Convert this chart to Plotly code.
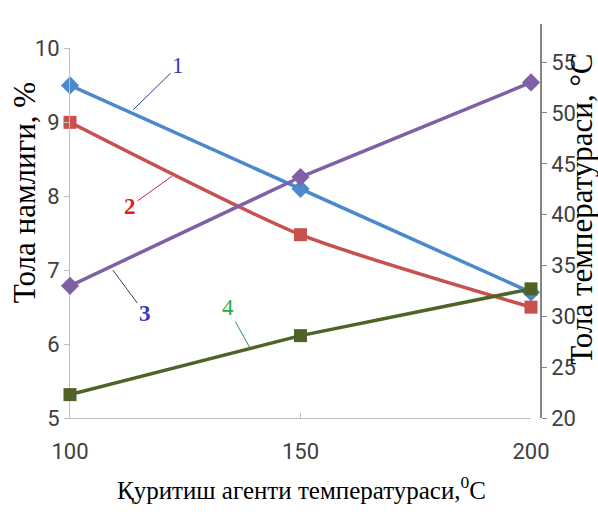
import plotly.graph_objects as go

# Data
x_temp = [100, 150, 200]
moisture_1 = [9.5, 8.1, 6.7]      # left axis, curve 1
moisture_2 = [9.0, 7.48, 6.5]     # left axis, curve 2
fiber_temp_3 = [33.0, 43.7, 53.0] # right axis, curve 3
fiber_temp_4 = [22.3, 28.1, 32.7] # right axis, curve 4
x_ticks = [100, 150, 200]
left_ticks = [5, 6, 7, 8, 9, 10]
right_ticks = [20, 25, 30, 35, 40, 45, 50, 55]

W, H = 598, 515
L, R, T, B = 70, 57, 15, 97
inner_w = W - L - R
inner_h = H - T - B

TICK_FONT = dict(family="Liberation Sans Narrow, Roboto, sans-serif", size=22, color="#404040")
SERIF = "Liberation Serif, Times New Roman, serif"

fig = go.Figure()
fig.add_trace(go.Scatter(x=x_temp, y=fiber_temp_3, mode="lines+markers", yaxis="y2",
                         line=dict(color="#7f60a6", width=3.5),
                         marker=dict(symbol="diamond", size=14, color="#7f60a6"),
                         cliponaxis=False, showlegend=False))
fig.add_trace(go.Scatter(x=x_temp, y=fiber_temp_4, mode="lines+markers", yaxis="y2",
                         line=dict(color="#4f6228", width=3.5),
                         marker=dict(symbol="square", size=13, color="#4f6228"),
                         cliponaxis=False, showlegend=False))
fig.add_trace(go.Scatter(x=x_temp, y=moisture_1, mode="lines+markers", yaxis="y",
                         line=dict(color="#4a89cc", width=3.5),
                         marker=dict(symbol="diamond", size=14, color="#4a89cc"),
                         cliponaxis=False, showlegend=False))
fig.add_trace(go.Scatter(x=x_temp, y=moisture_2, mode="lines+markers", yaxis="y",
                         line=dict(color="#c8504d", width=3.5, shape="spline", smoothing=0.6),
                         marker=dict(symbol="square", size=13, color="#c8504d"),
                         cliponaxis=False, showlegend=False))

x_dom_end = (531 - L) / inner_w
left_dom_end = (418 - 40) / inner_h

fig.update_layout(
    width=W, height=H,
    margin=dict(l=L, r=R, t=T, b=B),
    paper_bgcolor="white", plot_bgcolor="rgba(0,0,0,0)",
    xaxis=dict(domain=[0, x_dom_end], range=[100, 200], tickvals=x_ticks,
               showgrid=False, zeroline=False, showline=True, linecolor="#bfbfbf", linewidth=1,
               ticks="inside", ticklen=5, tickcolor="#bfbfbf",
               tickfont=TICK_FONT, ticklabelstandoff=14, anchor="y"),
    yaxis=dict(domain=[0, left_dom_end], range=[5, 10], tickvals=left_ticks,
               showgrid=False, zeroline=False, showline=True, linecolor="#bfbfbf", linewidth=1,
               ticks="outside", ticklen=5, tickcolor="#bfbfbf",
               tickfont=TICK_FONT, anchor="x"),
    yaxis2=dict(domain=[0, 1], range=[20, 20 + inner_h / 10.4], tickvals=right_ticks,
                side="right", anchor="free", position=1.0,
                showgrid=False, zeroline=False, showline=True, linecolor="#868686", linewidth=1.5,
                ticks="outside", ticklen=5, tickcolor="#868686",
                tickfont=TICK_FONT),
)

def px_x(p):
    return (p - L) / inner_w

def px_y(p):
    return (H - B - p) / inner_h

# Axis titles as annotations (paper coords)
fig.add_annotation(text="Қуритиш агенти температураси,<sup>0</sup>C", xref="paper", yref="paper",
                   x=px_x(301), y=px_y(490), xanchor="center", yanchor="middle", showarrow=False,
                   font=dict(family=SERIF, size=25, color="black"))
fig.add_annotation(text="Тола намлиги, %", xref="paper", yref="paper",
                   x=px_x(24), y=px_y(188), xanchor="center", yanchor="middle",
                   showarrow=False, textangle=-90,
                   font=dict(family=SERIF, size=31, color="black"))
fig.add_annotation(text="Тола температураси, °C", xref="paper", yref="paper",
                   x=px_x(582), y=px_y(205), xanchor="center", yanchor="middle",
                   showarrow=False, textangle=-90,
                   font=dict(family=SERIF, size=31, color="black"))

# Curve labels with leader lines
labels = [
    dict(text="1", x=113.7, y=9.17, ax=45, ay=-44, color="#3a3ac0", lcolor="#333399", weight="normal"),
    dict(text="2", x=122.1, y=8.27, ax=-42, ay=30, color="#e02020", lcolor="#d02040", weight="bold"),
    dict(text="3", x=109.3, y=7.0, ax=32, ay=43, color="#3a3ac0", lcolor="#334466", weight="bold"),
    dict(text="4", x=139.0, y=5.95, ax=-22, ay=-40, color="#20b040", lcolor="#2e8b57", weight="normal"),
]
for lb in labels:
    fig.add_annotation(text=lb["text"], x=lb["x"], y=lb["y"], xref="x", yref="y",
                       ax=lb["ax"], ay=lb["ay"], showarrow=True, arrowhead=0,
                       arrowwidth=1, arrowcolor=lb["lcolor"], standoff=0,
                       font=dict(family=SERIF, size=23, color=lb["color"], weight=lb["weight"]))

fig.write_html("out.html")
